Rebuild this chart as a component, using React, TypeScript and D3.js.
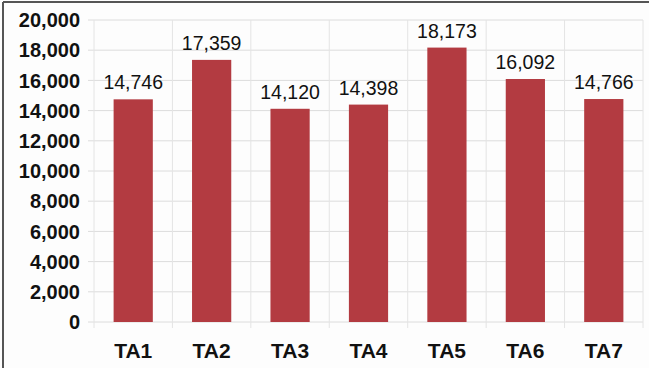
import React from "react";
import * as d3 from "d3";

const categories = ["TA1", "TA2", "TA3", "TA4", "TA5", "TA6", "TA7"];
const values = [14746, 17359, 14120, 14398, 18173, 16092, 14766];
const yTicks = [0, 2000, 4000, 6000, 8000, 10000, 12000, 14000, 16000, 18000, 20000];

const W = 649;
const H = 368;
const left = 94;
const right = 643;
const top = 20;
const bottom = 322;

export default function App() {
  const x = d3.scaleBand<string>().domain(categories).range([left, right]).paddingInner(0.5).paddingOuter(0.25);
  const xb = d3.scaleBand<string>().domain(categories).range([left, right]);
  const y = d3.scaleLinear().domain([0, 20000]).range([bottom, top]);
  const fmt = d3.format(",");
  const font = "Arial, 'Liberation Sans', sans-serif";
  return (
    <svg width={W} height={H} style={{ position: "absolute", left: 0, top: 0, background: "#fff" }}>
      <rect x={0} y={0} width={W} height={H} fill="#fdfdfd" />
      {yTicks.map((t) => (
        <line key={t} x1={left - 6} x2={right} y1={y(t)} y2={y(t)} stroke="#dcdcdc" strokeWidth={1} />
      ))}
      {categories.map((c) => (
        <line key={"v" + c} x1={xb(c)!} x2={xb(c)!} y1={top} y2={bottom + 6} stroke="#e4e4e4" strokeWidth={1} />
      ))}
      <line x1={right} x2={right} y1={top} y2={bottom + 6} stroke="#e4e4e4" />
      {yTicks.map((t) => (
        <text key={"l" + t} x={80} y={y(t)} dy="0.36em" textAnchor="end" fontFamily={font} fontWeight="bold" fontSize={20} fill="#111">
          {fmt(t)}
        </text>
      ))}
      {categories.map((c, i) => (
        <g key={c}>
          <rect x={x(c)!} y={y(values[i])} width={x.bandwidth()} height={bottom - y(values[i])} fill="#b33b41" />
          <text x={x(c)! + x.bandwidth() / 2} y={y(values[i]) - 10} textAnchor="middle" fontFamily={font} fontSize={19.5} fill="#111">
            {fmt(values[i])}
          </text>
          <text x={x(c)! + x.bandwidth() / 2} y={358} textAnchor="middle" fontFamily={font} fontWeight="bold" fontSize={21} fill="#111">
            {c}
          </text>
        </g>
      ))}
      <line x1={3} x2={3} y1={2} y2={H} stroke="#555" strokeWidth={2} />
      <line x1={3} x2={W} y1={2} y2={2} stroke="#555" strokeWidth={2} />
    </svg>
  );
}
